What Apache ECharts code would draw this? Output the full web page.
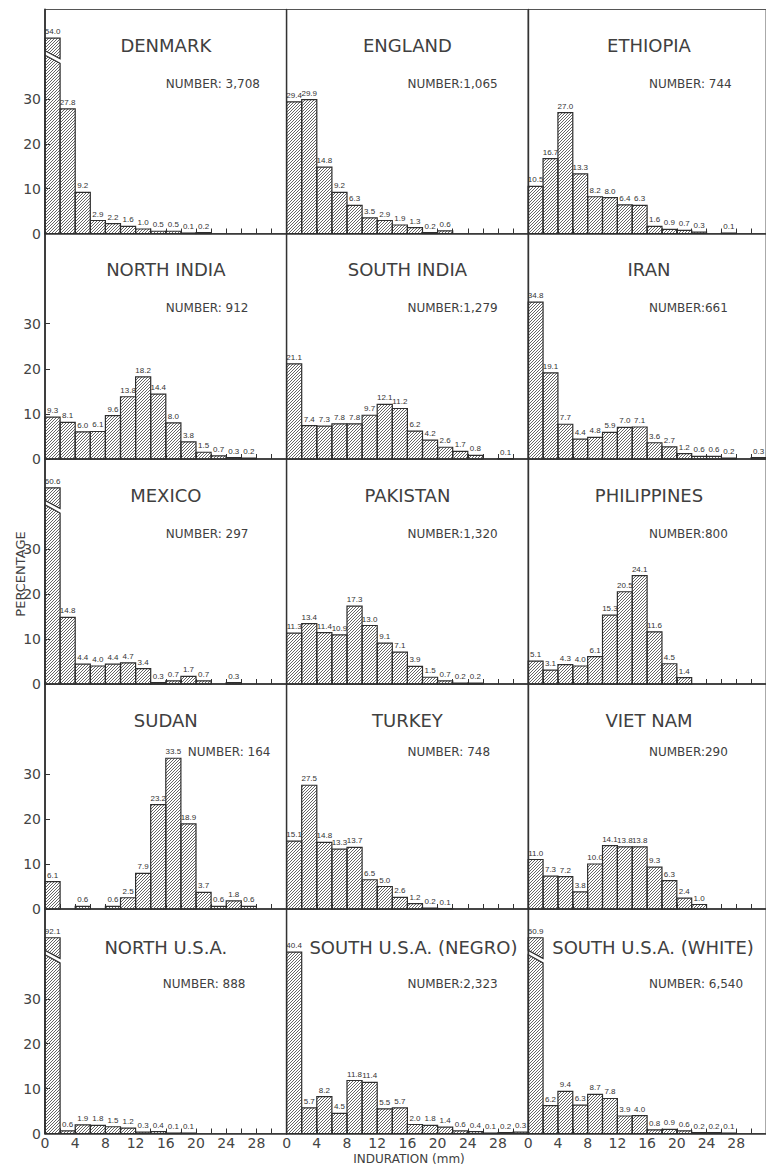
<!DOCTYPE html>
<html>
<head>
<meta charset="utf-8">
<script src="https://cdn.jsdelivr.net/npm/echarts@6/dist/echarts.min.js"></script>
<style>
html,body{margin:0;padding:0;background:#fff;}
#chart{width:766px;height:1165px;}
</style>
</head>
<body>
<div id="chart"></div>
<script>
// ---------------- DATA ----------------
const countries = ["DENMARK","ENGLAND","ETHIOPIA","NORTH INDIA","SOUTH INDIA","IRAN","MEXICO","PAKISTAN","PHILIPPINES","SUDAN","TURKEY","VIET NAM","NORTH U.S.A.","SOUTH U.S.A. (NEGRO)","SOUTH U.S.A. (WHITE)"];
const numberLabels = ["NUMBER: 3,708","NUMBER:1,065","NUMBER: 744","NUMBER: 912","NUMBER:1,279","NUMBER:661","NUMBER: 297","NUMBER:1,320","NUMBER:800","NUMBER: 164","NUMBER: 748","NUMBER:290","NUMBER: 888","NUMBER:2,323","NUMBER: 6,540"];
// induration bins (mm), 2 mm wide, start values
const binStartsMm = [0,2,4,6,8,10,12,14,16,18,20,22,24,26,28,30];
// percentages per bin
const denmark     = [54.0,27.8,9.2,2.9,2.2,1.6,1.0,0.5,0.5,0.1,0.2];
const england     = [29.4,29.9,14.8,9.2,6.3,3.5,2.9,1.9,1.3,0.2,0.6];
const ethiopia    = [10.5,16.7,27.0,13.3,8.2,8.0,6.4,6.3,1.6,0.9,0.7,0.3,0,0.1];
const northIndia  = [9.3,8.1,6.0,6.1,9.6,13.8,18.2,14.4,8.0,3.8,1.5,0.7,0.3,0.2];
const southIndia  = [21.1,7.4,7.3,7.8,7.8,9.7,12.1,11.2,6.2,4.2,2.6,1.7,0.8,0,0.1];
const iran        = [34.8,19.1,7.7,4.4,4.8,5.9,7.0,7.1,3.6,2.7,1.2,0.6,0.6,0.2,0,0.3];
const mexico      = [60.6,14.8,4.4,4.0,4.4,4.7,3.4,0.3,0.7,1.7,0.7,0,0.3];
const pakistan    = [11.3,13.4,11.4,10.9,17.3,13.0,9.1,7.1,3.9,1.5,0.7,0.2,0.2];
const philippines = [5.1,3.1,4.3,4.0,6.1,15.3,20.5,24.1,11.6,4.5,1.4];
const sudan       = [6.1,0,0.6,0,0.6,2.5,7.9,23.2,33.5,18.9,3.7,0.6,1.8,0.6];
const turkey      = [15.1,27.5,14.8,13.3,13.7,6.5,5.0,2.6,1.2,0.2,0.1];
const vietNam     = [11.0,7.3,7.2,3.8,10.0,14.1,13.8,13.8,9.3,6.3,2.4,1.0];
const northUSA    = [92.1,0.6,1.9,1.8,1.5,1.2,0.3,0.4,0.1,0.1];
const southNegro  = [40.4,5.7,8.2,4.5,11.8,11.4,5.5,5.7,2.0,1.8,1.4,0.6,0.4,0.1,0.2,0.3];
const southWhite  = [50.9,6.2,9.4,6.3,8.7,7.8,3.9,4.0,0.8,0.9,0.6,0.2,0.2,0.1];
const xTickValues = [0,4,8,12,16,20,24,28];
const yTickValues = [0,10,20,30];
const yAxisName = "PERCENTAGE";
const xAxisName = "INDURATION (mm)";

const panelValues = [denmark,england,ethiopia,northIndia,southIndia,iran,mexico,pakistan,philippines,sudan,turkey,vietNam,northUSA,southNegro,southWhite];

// ---------------- LAYOUT / STYLE ----------------
const colLeft = [45, 286.6, 528.2];
const colW = 241.6;
const rowTop = [9.5, 233.5, 459, 684, 909];
const rowBottom = [233.5, 459, 684, 909, 1133.5];
const Y_MAX = 50;
const CAP = 43.6;            // displayed height of broken bars
const titleDx = [0,0,0,0,0,0,0,0,0,0,0,0,0,6,4];
const numberDx = [0,0,0,0,0,0,0,0,0,22,0,0,-3,0,0];

const pc = document.createElement('canvas');
pc.width = 3; pc.height = 3;
const g = pc.getContext('2d');
g.strokeStyle = '#555'; g.lineWidth = 0.9;
g.beginPath();
g.moveTo(0,3); g.lineTo(3,0);
g.moveTo(-1,1); g.lineTo(1,-1);
g.moveTo(2,4); g.lineTo(4,2);
g.stroke();
const hatch = {image: pc, repeat: 'repeat', imageWidth: 3, imageHeight: 3};
const barStyle = {fill: hatch, stroke: '#2e2e2e', lineWidth: 1.2};

function renderBar(params, api) {
  const x = api.value(0), v = api.value(1);
  const p0 = api.coord([x, 0]);
  const p1 = api.coord([x + 2, 0]);
  const x0 = p0[0], x1 = p1[0], yb = p0[1];
  const children = [];
  let labelY;
  if (v > CAP) {
    const yTop = api.coord([x, CAP])[1];
    const uL = api.coord([x, 40.8])[1], uR = api.coord([x, 39.0])[1];
    const lL = api.coord([x, 39.8])[1], lR = api.coord([x, 38.0])[1];
    children.push({type: 'polygon', shape: {points: [[x0,yTop],[x1,yTop],[x1,uR],[x0,uL]]}, style: barStyle});
    children.push({type: 'polygon', shape: {points: [[x0,lL],[x1,lR],[x1,yb],[x0,yb]]}, style: barStyle});
    labelY = yTop;
  } else {
    const yTop = api.coord([x, v])[1];
    children.push({type: 'rect', shape: {x: x0, y: yTop, width: x1 - x0, height: yb - yTop}, style: barStyle});
    labelY = yTop;
  }
  children.push({
    type: 'text', x: (x0 + x1) / 2, y: labelY - 2.5,
    style: {text: v.toFixed(1), align: 'center', verticalAlign: 'bottom',
            font: '8px "Liberation Sans", sans-serif', fill: '#333'}
  });
  return {type: 'group', children: children};
}

const grids = [], xAxes = [], yAxes = [], series = [], graphics = [];
for (let i = 0; i < 15; i++) {
  const r = Math.floor(i / 3), c = i % 3;
  grids.push({left: colLeft[c], top: rowTop[r], width: colW, height: rowBottom[r] - rowTop[r],
              show: true, borderColor: '#555', borderWidth: 1});
  xAxes.push({
    gridIndex: i, type: 'value', min: 0, max: 32, interval: 2,
    axisLine: {show: true, onZero: false, lineStyle: {color: '#333', width: 1.5}},
    axisTick: {show: true, inside: true, length: 5, lineStyle: {color: '#333'}},
    axisLabel: {show: r === 4, customValues: xTickValues, fontSize: 14, color: '#444',
                fontFamily: 'DejaVu Sans', margin: 2},
    splitLine: {show: false}
  });
  yAxes.push({
    gridIndex: i, type: 'value', min: 0, max: Y_MAX,
    axisLine: {show: true, onZero: false, lineStyle: {color: '#333', width: c === 0 ? 1.8 : 1.4}},
    axisTick: {show: c === 0, inside: true, length: 5, customValues: yTickValues, lineStyle: {color: '#333'}},
    axisLabel: {show: c === 0, customValues: yTickValues, fontSize: 14, color: '#444',
                fontFamily: 'DejaVu Sans', margin: 4},
    splitLine: {show: false}
  });
  const vals = panelValues[i];
  const data = [];
  vals.forEach((v, k) => { if (v > 0) data.push([binStartsMm[k], v]); });
  series.push({
    type: 'custom', coordinateSystem: 'cartesian2d', xAxisIndex: i, yAxisIndex: i,
    clip: false, silent: true, renderItem: renderBar, data: data
  });
  const cx = colLeft[c] + colW / 2;
  graphics.push({
    type: 'text', x: cx + titleDx[i], y: rowTop[r] + (r === 4 ? 38 : 36),
    style: {text: countries[i], align: 'center', verticalAlign: 'middle',
            font: '18px "DejaVu Sans", sans-serif', fill: '#404040'}
  });
  graphics.push({
    type: 'text', x: cx + numberDx[i], y: rowTop[r] + (r === 3 ? 68 : 74.5),
    style: {text: numberLabels[i], align: 'left', verticalAlign: 'middle',
            font: '12px "DejaVu Sans", sans-serif', fill: '#404040'}
  });
}
graphics.push({
  type: 'text', x: 20, y: 574, rotation: Math.PI / 2,
  style: {text: yAxisName, align: 'center', verticalAlign: 'middle',
          font: '13px "DejaVu Sans", sans-serif', fill: '#404040'}
});
graphics.push({
  type: 'text', x: 409, y: 1159,
  style: {text: xAxisName, align: 'center', verticalAlign: 'middle',
          font: '12px "DejaVu Sans", sans-serif', fill: '#404040'}
});

const chart = echarts.init(document.getElementById('chart'), null, {renderer: 'svg'});
chart.setOption({
  animation: false,
  backgroundColor: '#fff',
  grid: grids, xAxis: xAxes, yAxis: yAxes, series: series,
  graphic: {elements: graphics}
});
</script>
</body>
</html>
